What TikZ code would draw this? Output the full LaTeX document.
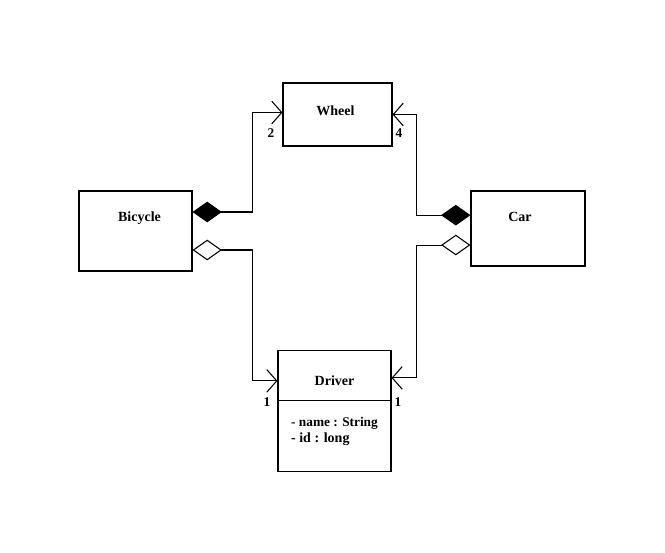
\documentclass[tikz,border=0pt]{standalone}
\usepackage{fontspec}
\setmainfont{Liberation Serif}
\usetikzlibrary{arrows.meta}
\usetikzlibrary{shapes}
\usetikzlibrary{positioning}

\begin{document}
\begin{tikzpicture}[x=0.75pt, y=-0.75pt, line width=0.8pt,
    cls/.style={draw, rectangle, inner sep=0pt, font=\fontsize{10.5}{12}\bfseries},
    mult/.style={inner sep=2pt, font=\fontsize{10}{12}\bfseries},
    comp/.style={{Diamond[length=22pt,width=15.5pt]}-{Straight Barb[length=7.5pt,width=17pt]}},
    aggr/.style={{Diamond[open,length=22pt,width=15.5pt]}-{Straight Barb[length=7.5pt,width=17pt]}}]
  \useasboundingbox (0,0) rectangle (665,553);

  \node[cls, minimum width=84.75pt, text height=22.5pt, text depth=37.5pt] (bicycle) at (135.5,231) {\hspace*{6pt}Bicycle};
  \node[cls, minimum width=85.5pt, text height=22.5pt, text depth=33.75pt] (car) at (528,228.5) {Car\hspace*{12pt}};
  \node[cls, minimum width=81.75pt, text height=24pt, text depth=23.25pt] (wheel) at (337.5,114.5) {Wheel\hspace*{3pt}};
  \node[cls, rectangle split, rectangle split parts=2, minimum width=84.75pt, align=left] (driver) at (334.5,411)
    {\rule{0pt}{26.25pt}Driver\rule[-10.5pt]{0pt}{10.5pt}
     \nodepart{second}\fontsize{10}{14.25}\selectfont\rule{0pt}{19pt}- name : String\\- id : long\rule[-21.5pt]{0pt}{21.5pt}};

  \draw[comp] ([yshift=14.25pt]bicycle.east) -- ++(60,0) |- ([yshift=1.5pt]wheel.west);
  \draw[aggr] ([yshift=-14.25pt]bicycle.east) -- ++(60,0) |- ([yshift=-23.25pt]driver.north west);
  \draw[comp] ([yshift=10pt]car.west) -- ++(-54,0) |- (wheel.east);
  \draw[aggr] ([yshift=-12.4pt]car.west) -- ++(-54,0) |- ([yshift=-21pt]driver.north east);

  \node[mult, below left=8.5pt and 3.75pt of wheel.west] (nbike) {2};
  \node[mult, below right=8.5pt and 0pt of wheel.east] (ncar) {4};
  \node[mult, below left=33.6pt and 3pt of driver.north west] (ndrvbike) {1};
  \node[mult, below right=33.6pt and 0pt of driver.north east] (ndrvcar) {1};
\end{tikzpicture}
\end{document}
